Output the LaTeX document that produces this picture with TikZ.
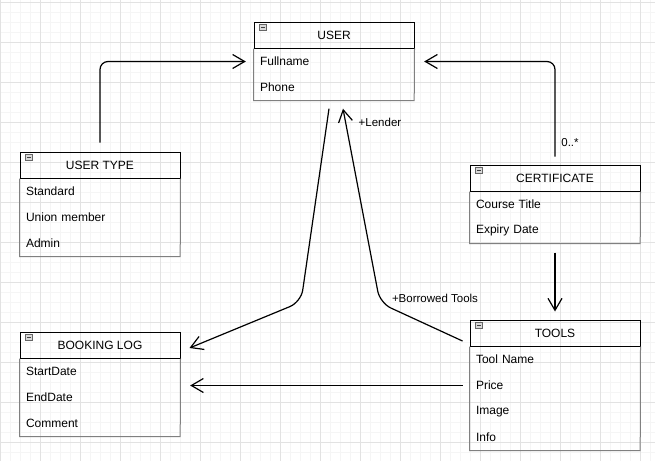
\documentclass[tikz,border=0pt]{standalone}
\usepackage{fontspec}
\setmainfont{Liberation Sans}
\usetikzlibrary{arrows.meta}

\definecolor{gridmajor}{RGB}{226,226,226}
\definecolor{gridminor}{RGB}{245,245,245}
\definecolor{bodygray}{RGB}{128,128,128}

\tikzset{
  hdr/.style={draw=black, line width=1pt, minimum width=#1, minimum height=26pt, inner sep=0pt, font=\fontsize{12}{14}\selectfont},
  row/.style={text width=#1, inner xsep=6pt, inner ysep=0pt, minimum height=26pt, align=left, font=\fontsize{12}{14}\selectfont},
  bodyline/.style={draw=bodygray, line width=1pt},
  icon/.style={draw=gray!80!black, fill=gray!30, line width=0.6pt, minimum size=6.5pt, inner sep=0pt,
    path picture={\draw[black!75, line width=0.9pt] ([xshift=1.6pt]path picture bounding box.west) -- ([xshift=-1.6pt]path picture bounding box.east);}},
  assoc/.style={draw=black, line width=1.2pt, line join=round, -{Straight Barb[length=12pt,width=14pt]}},
  lbl/.style={font=\fontsize{11.5}{13}\selectfont, inner sep=0pt}
}

\begin{document}
\begin{tikzpicture}[x=1pt,y=-1pt]
        \useasboundingbox (0,0) rectangle (655,461);
        \fill[white] (0,0) rectangle (655,461);
        % background grid
        \foreach \x in {0,10,...,650} \draw[gridminor, line width=0.8pt] (\x,0) -- (\x,461);
        \foreach \y in {2,12,...,452} \draw[gridminor, line width=0.8pt] (0,\y) -- (655,\y);
        \foreach \x in {0,40,...,640} \draw[gridmajor, line width=0.8pt] (\x,0) -- (\x,461);
        \foreach \y in {2,42,...,442} \draw[gridmajor, line width=0.8pt] (0,\y) -- (655,\y);

        % USER
        \node[row=148pt] (user1) at (334,61.5) {Fullname};
        \node[row=148pt] (user2) at (334,87.5) {Phone};
        \node[hdr=160pt] (user) at (334,35) {USER};
        \draw[bodyline] (user.south west) |- (user2.south east) -- (user.south east);
        \node[icon] (usericon) at ([xshift=9.5pt,yshift=-6pt]user.north west) {};

        % USER TYPE
        \node[row=148pt] (utype1) at (100,191.5) {Standard};
        \node[row=148pt] (utype2) at (100,217.5) {Union member};
        \node[row=148pt] (utype3) at (100,243.5) {Admin};
        \node[hdr=160pt] (utype) at (100,165) {USER TYPE};
        \draw[bodyline] (utype.south west) |- (utype3.south east) -- (utype.south east);
        \node[icon] (utypeicon) at ([xshift=9.5pt,yshift=-6pt]utype.north west) {};

        % CERTIFICATE
        \node[row=158pt] (cert1) at (555,204.5) {Course Title};
        \node[row=158pt] (cert2) at (555,230.5) {Expiry Date};
        \node[hdr=170pt] (cert) at (555,178) {CERTIFICATE};
        \draw[bodyline] (cert.south west) |- (cert2.south east) -- (cert.south east);
        \node[icon] (certicon) at ([xshift=9.5pt,yshift=-6pt]cert.north west) {};

        % BOOKING LOG
        \node[row=148pt] (book1) at (100,371.5) {StartDate};
        \node[row=148pt] (book2) at (100,397.5) {EndDate};
        \node[row=148pt] (book3) at (100,423.5) {Comment};
        \node[hdr=160pt] (book) at (100,345) {BOOKING LOG};
        \draw[bodyline] (book.south west) |- (book3.south east) -- (book.south east);
        \node[icon] (bookicon) at ([xshift=9.5pt,yshift=-6pt]book.north west) {};

        % TOOLS
        \node[row=158pt] (tools1) at (555,359.5) {Tool Name};
        \node[row=158pt] (tools2) at (555,385.5) {Price};
        \node[row=158pt] (tools3) at (555,411.5) {Image};
        \node[row=158pt] (tools4) at (555,437.5) {Info};
        \node[hdr=170pt] (tools) at (555,333) {TOOLS};
        \draw[bodyline] (tools.south west) |- (tools4.south east) -- (tools.south east);
        \node[icon] (toolsicon) at ([xshift=9.5pt,yshift=-6pt]tools.north west) {};

        % connectors
        \draw[assoc, rounded corners=8pt, shorten <=9pt, shorten >=8pt] (utype.north) |- (user1.west);
        \draw[assoc, rounded corners=8pt, shorten <=8pt, shorten >=10pt] (cert.north) |- (user1.east);
        \draw[assoc, shorten <=9pt, shorten >=8pt] (cert2.south) -- (tools.north);
        \draw[assoc, rounded corners=12pt] ([xshift=-5pt,yshift=-8pt]user2.south) -- (301,302) -- ([xshift=9pt,yshift=-3pt]book.east);
        \draw[assoc, rounded corners=12pt] ([xshift=-7pt,yshift=-8pt]tools.west) -- (380,303) -- ([xshift=9pt,yshift=-8pt]user2.south);
        \draw[assoc, shorten <=7pt, shorten >=10pt] (tools2.west) -- (tools2.west -| book1.east);

        % labels
        \node[lbl] (certmult) at (570,143) {0..*};
        \node[lbl] (lender) at (380,122) {+Lender};
        \node[lbl] (borrowed) at (435,298) {+Borrowed Tools};
    \end{tikzpicture}
\end{document}
